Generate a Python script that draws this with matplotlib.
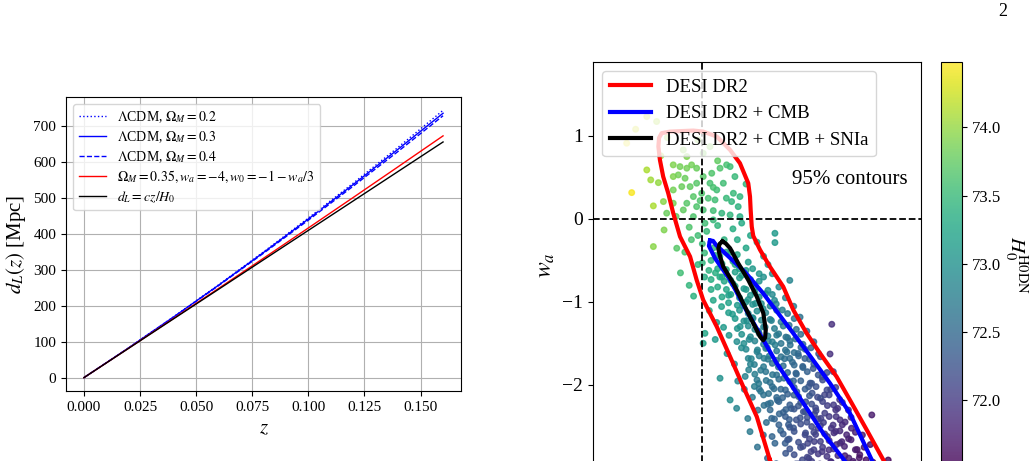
import numpy as np
import matplotlib
matplotlib.use("Agg")
from matplotlib import pyplot as plt

plt.rcParams["font.family"] = "serif"
plt.rcParams["font.serif"] = ["Liberation Serif", "DejaVu Serif"]
plt.rcParams["mathtext.fontset"] = "stix"

# ---- left panel: luminosity distance curves
z_vals = [0.0, 0.02, 0.04, 0.06, 0.08, 0.10, 0.12, 0.14, 0.16]
dl_lcdm_02 = [0, 83.4, 169.5, 258.4, 350.0, 444.3, 541.4, 641.3, 744]
dl_lcdm_03 = [0, 83.3, 169.1, 257.4, 348.3, 441.7, 537.6, 636.0, 736]
dl_lcdm_04 = [0, 83.1, 168.6, 256.3, 346.3, 438.5, 533.1, 629.9, 729]
dl_w0wa = [0, 82.3, 165.1, 248.4, 332.3, 416.7, 501.6, 587.1, 673]
dl_hubble = [0, 82, 164, 246, 328, 410, 492, 574, 656]

# ---- right panel: samples (w0, wa, H0), spread part of the cloud
w0_samples = [
    -1.254, -1.346, -1.305, -1.209, -1.087, -0.996, -0.965, -1.071, -1.160, -1.020,
    -1.190, -0.930, -1.254, -1.133, -1.102, -1.071, -1.049, -1.026, -0.919, -0.889,
    -0.873, -1.323, -1.236, -1.201, -1.224, -1.178, -1.133, -1.110, -1.079, -1.133,
    -1.094, -1.056, -1.026, -1.041, -1.003, -1.071, -1.026, -0.996, -0.973, -0.942,
    -0.957, -0.851, -0.866, -0.836, -0.911, -0.873, -0.828, -0.934, -0.904, -0.965,
    -0.996, -1.163, -1.087, -1.041, -0.858, -0.828, -1.133, -0.950, -0.890, -1.010,
    -0.800, -0.950, -1.120, -1.175, -1.224, -1.117, -0.950, -0.988, -0.668, -0.668,
    -1.060, -1.020, -0.980, -0.930, -0.900, -0.860, -0.820, -0.780, -0.950, -1.000,
    -0.870, -0.800, -0.750, -1.080, -0.920, -0.720, -1.050, -0.840, -1.100, -1.060,
    -1.020, -0.990, -0.960, -0.930, -0.900, -0.880, -0.850, -0.820, -0.800, -0.770,
    -0.740, -0.710, -0.680, -0.650, -0.950, -0.860, -0.790, -0.920, -0.830, -0.760,
    -1.040, -0.700, -0.620, -0.600, -0.670, -0.996, -0.988, -0.968, -0.934, -0.912,
    -0.878, -0.862, -0.827, -0.814, -0.786, -0.768, -0.743, -0.722, -0.698, -0.684,
    -0.651, -0.634, -0.603, -0.574, -0.553, -0.522, -0.408, -0.903, -0.842, -0.757,
    -0.713, -0.662, -0.618, -0.797, -0.941, -0.582, -0.887, -0.853, -0.821, -0.804,
    -0.776, -0.748, -0.733, -0.708, -0.694, -0.667, -0.652, -0.627, -0.613, -0.588,
    -0.572, -0.549, -0.531, -0.507, -0.493, -0.468, -0.452, -0.416, -0.401, -0.919,
    -0.838, -0.762, -0.703, -0.624, -0.583, -0.541, -0.679, -0.742, -0.503, -0.598,
    -0.661, -0.718, -0.788, -0.562, -0.873, -0.843, -0.808, -0.792, -0.771, -0.746,
    -0.733, -0.707, -0.688, -0.672, -0.648, -0.633, -0.606, -0.593, -0.568, -0.552,
    -0.527, -0.514, -0.487, -0.473, -0.446, -0.428, -0.413, -0.388, -0.372, -0.347,
    -0.225, -0.762, -0.683, -0.618, -0.581, -0.522, -0.482, -0.441, -0.402, -0.718,
    -0.657, -0.602, -0.561, -0.498, -0.458, -0.538, -0.641, -0.697, -0.381, -0.332,
    -0.782, -0.748, -0.721, -0.702, -0.668, -0.642, -0.619, -0.603, -0.572, -0.551,
    -0.528, -0.513, -0.488, -0.471, -0.452, -0.428, -0.413, -0.387, -0.371, -0.348,
    -0.331, -0.307, -0.292, -0.268, -0.251, -0.232, -0.150, -0.662, -0.583, -0.518,
    -0.463, -0.421, -0.362, -0.318, -0.282, -0.542, -0.482, -0.441, -0.398, -0.338,
    -0.621, -0.681, -0.503,
]
wa_samples = [
    1.233, 0.912, 1.080, 1.173, 0.831, 0.791, 0.871, 0.751, 0.980, 0.950,
    0.760, 0.700, 0.590, 0.651, 0.630, 0.611, 0.651, 0.611, 0.611, 0.651,
    0.630, 0.317, 0.470, 0.437, 0.157, 0.209, 0.510, 0.530, 0.490, 0.349,
    0.389, 0.389, 0.430, 0.269, 0.309, 0.189, 0.148, 0.108, 0.249, 0.229,
    0.550, 0.510, 0.209, 0.148, 0.069, 0.048, 0.028, 0.349, 0.430, 0.430,
    0.510, 0.069, 0.108, 0.028, 0.309, 0.269, 0.189, 0.380, 0.250, 0.220,
    0.420, 0.100, 0.030, -0.133, -0.333, -0.353, -0.012, -0.052, -0.173, -0.285,
    -0.100, -0.200, -0.150, -0.080, -0.250, -0.120, -0.050, -0.200, -0.350, -0.300,
    -0.400, -0.350, -0.280, -0.400, -0.450, -0.450, -0.250, -0.250, -0.650, -0.800,
    -0.550, -0.700, -0.850, -0.600, -0.750, -0.920, -0.550, -0.680, -0.850, -0.600,
    -0.750, -0.900, -0.660, -0.820, -0.980, -0.780, -0.970, -0.700, -0.600, -0.880,
    -0.930, -0.550, -0.950, -0.740, -0.980, -1.498, -1.378, -1.104, -1.247, -1.056,
    -1.402, -1.147, -1.296, -1.043, -1.452, -1.196, -1.352, -1.081, -1.473, -1.224,
    -1.384, -1.097, -1.281, -1.446, -1.183, -1.352, -1.269, -1.306, -1.478, -1.018,
    -1.302, -1.024, -1.423, -1.226, -1.452, -1.052, -1.622, -1.748, -1.553, -1.897,
    -1.684, -1.578, -1.823, -1.946, -1.652, -1.518, -1.784, -1.918, -1.603, -1.726,
    -1.857, -1.547, -1.681, -1.978, -1.802, -1.624, -1.903, -1.627, -1.840, -1.919,
    -1.953, -1.754, -1.551, -1.684, -1.951, -1.776, -1.876, -1.982, -1.552, -1.518,
    -1.703, -1.679, -1.818, -1.621, -2.181, -2.281, -2.052, -2.404, -2.148, -2.303,
    -2.077, -2.452, -2.218, -2.046, -2.348, -2.153, -2.478, -2.284, -2.082, -2.396,
    -2.203, -2.021, -2.352, -2.147, -2.452, -2.248, -2.053, -2.381, -2.176, -2.447,
    -2.361, -2.018, -2.402, -2.296, -2.122, -2.448, -2.277, -2.119, -2.483, -2.246,
    -2.184, -2.417, -2.253, -2.098, -2.402, -2.322, -2.051, -2.104, -2.282, -2.302,
    -2.562, -2.748, -2.603, -2.882, -2.702, -2.548, -2.823, -2.652, -2.951, -2.752,
    -2.578, -2.883, -2.681, -2.522, -2.803, -2.621, -2.923, -2.718, -2.553, -2.852,
    -2.648, -2.947, -2.778, -2.603, -2.902, -2.718, -2.904, -2.948, -2.517, -2.703,
    -2.952, -2.782, -2.683, -2.521, -2.878, -2.902, -2.597, -2.981, -2.577, -2.953,
    -2.702, -2.621, -2.802,
]
h0_samples = [
    74.20, 74.40, 74.30, 74.10, 73.95, 73.85, 73.90, 73.90, 74.05, 73.95,
    74.05, 73.75, 74.10, 73.90, 73.85, 73.85, 73.85, 73.80, 73.65, 73.60,
    73.55, 74.45, 74.05, 74.00, 74.10, 73.95, 73.90, 73.85, 73.80, 73.85,
    73.80, 73.75, 73.70, 73.70, 73.65, 73.70, 73.65, 73.60, 73.60, 73.55,
    73.65, 73.50, 73.45, 73.40, 73.45, 73.45, 73.35, 73.55, 73.55, 73.60,
    73.70, 73.80, 73.75, 73.65, 73.50, 73.45, 73.85, 73.60, 73.50, 73.65,
    73.45, 73.55, 73.75, 73.90, 73.95, 73.70, 73.50, 73.55, 73.10, 73.10,
    73.65, 73.55, 73.50, 73.45, 73.40, 73.35, 73.30, 73.25, 73.45, 73.50,
    73.35, 73.25, 73.20, 73.60, 73.40, 73.15, 73.60, 73.30, 73.55, 73.45,
    73.45, 73.35, 73.30, 73.30, 73.25, 73.15, 73.20, 73.15, 73.10, 73.10,
    73.00, 72.95, 72.95, 72.90, 73.25, 73.20, 73.05, 73.30, 73.20, 73.05,
    73.40, 73.00, 72.80, 72.85, 72.90, 73.20, 73.25, 73.30, 73.15, 73.20,
    73.05, 73.10, 73.00, 73.05, 72.90, 72.95, 72.85, 72.90, 72.80, 72.80,
    72.70, 72.75, 72.65, 72.55, 72.60, 72.50, 71.90, 73.10, 72.95, 73.00,
    72.80, 72.80, 72.60, 72.95, 73.10, 72.70, 73.00, 72.90, 72.95, 72.80,
    72.85, 72.85, 72.70, 72.65, 72.75, 72.75, 72.60, 72.55, 72.60, 72.50,
    72.45, 72.50, 72.40, 72.30, 72.30, 72.30, 72.20, 71.90, 72.10, 73.00,
    72.85, 72.75, 72.80, 72.55, 72.45, 72.40, 72.65, 72.70, 72.45, 72.60,
    72.65, 72.75, 72.80, 72.50, 72.95, 72.85, 72.80, 72.70, 72.70, 72.65,
    72.65, 72.55, 72.55, 72.55, 72.45, 72.45, 72.35, 72.35, 72.40, 72.25,
    72.25, 72.30, 72.15, 72.15, 72.05, 72.05, 72.10, 71.95, 71.95, 71.85,
    71.70, 72.75, 72.50, 72.40, 72.40, 72.20, 72.15, 72.10, 71.95, 72.60,
    72.50, 72.35, 72.30, 72.25, 72.05, 72.25, 72.50, 72.60, 71.95, 71.85,
    72.70, 72.60, 72.55, 72.45, 72.45, 72.45, 72.30, 72.30, 72.20, 72.20,
    72.20, 72.05, 72.05, 72.05, 71.95, 71.95, 71.85, 71.85, 71.85, 71.75,
    71.75, 71.65, 71.65, 71.70, 71.60, 71.60, 71.55, 72.35, 72.30, 72.10,
    71.95, 71.90, 71.80, 71.80, 71.65, 72.15, 72.05, 71.90, 71.90, 71.70,
    72.35, 72.45, 72.05,
]

# dense core of the cloud, one line per wa strip
w0_core = [
    -0.99, -0.94, -0.89, -0.84,
    -1.00, -0.96, -0.91, -0.86, -0.79,
    -0.97, -0.94, -0.89, -0.85, -0.80, -0.74,
    -0.96, -0.91, -0.87, -0.83, -0.78, -0.72,
    -0.93, -0.89, -0.85, -0.81, -0.76, -0.70,
    -0.91, -0.87, -0.83, -0.78, -0.74, -0.68,
    -0.88, -0.84, -0.80, -0.77, -0.73, -0.69,
    -0.88, -0.83, -0.79, -0.75, -0.71, -0.66, -0.61,
    -0.85, -0.81, -0.77, -0.73, -0.69, -0.64, -0.58,
    -0.84, -0.79, -0.76, -0.72, -0.67, -0.63, -0.57,
    -0.82, -0.78, -0.74, -0.70, -0.66, -0.61, -0.55,
    -0.81, -0.76, -0.72, -0.68, -0.64, -0.60, -0.54, -0.49,
    -0.80, -0.75, -0.71, -0.66, -0.62, -0.58, -0.53,
    -0.79, -0.74, -0.70, -0.64, -0.60, -0.56, -0.51, -0.46,
    -0.78, -0.72, -0.68, -0.63, -0.58, -0.54, -0.49,
    -0.76, -0.71, -0.66, -0.61, -0.57, -0.52, -0.47, -0.43,
    -0.75, -0.69, -0.65, -0.60, -0.55, -0.50, -0.45,
    -0.74, -0.68, -0.62, -0.58, -0.53, -0.48, -0.43, -0.39,
    -0.72, -0.66, -0.61, -0.56, -0.51, -0.46, -0.42,
    -0.70, -0.65, -0.60, -0.55, -0.50, -0.45, -0.40, -0.36,
    -0.69, -0.63, -0.58, -0.53, -0.48, -0.44, -0.39,
    -0.67, -0.62, -0.57, -0.52, -0.47, -0.42, -0.37, -0.32,
    -0.65, -0.60, -0.55, -0.50, -0.46, -0.41, -0.36,
    -0.63, -0.58, -0.53, -0.49, -0.44, -0.39, -0.34, -0.30,
    -0.61, -0.56, -0.51, -0.46, -0.42, -0.37, -0.32,
    -0.60, -0.54, -0.49, -0.45, -0.40, -0.35, -0.30, -0.26,
    -0.58, -0.52, -0.47, -0.43, -0.38, -0.33, -0.28,
    -0.56, -0.50, -0.45, -0.41, -0.36, -0.31, -0.26, -0.22,
]
wa_core = [
    -0.41, -0.44, -0.40, -0.43,
    -0.53, -0.50, -0.54, -0.51, -0.52,
    -0.62, -0.65, -0.61, -0.64, -0.62, -0.66,
    -0.73, -0.70, -0.74, -0.71, -0.73, -0.70,
    -0.82, -0.85, -0.81, -0.84, -0.83, -0.86,
    -0.94, -0.91, -0.95, -0.92, -0.94, -0.91,
    -1.01, -1.04, -1.00, -1.03, -1.02, -1.05,
    -1.13, -1.10, -1.14, -1.11, -1.13, -1.10, -1.14,
    -1.20, -1.23, -1.19, -1.22, -1.21, -1.24, -1.20,
    -1.32, -1.29, -1.33, -1.30, -1.32, -1.29, -1.33,
    -1.39, -1.42, -1.38, -1.41, -1.40, -1.43, -1.39,
    -1.50, -1.47, -1.51, -1.48, -1.50, -1.47, -1.51, -1.48,
    -1.57, -1.60, -1.56, -1.59, -1.58, -1.61, -1.57,
    -1.68, -1.65, -1.69, -1.66, -1.68, -1.65, -1.69, -1.66,
    -1.75, -1.78, -1.74, -1.77, -1.76, -1.79, -1.75,
    -1.87, -1.84, -1.88, -1.85, -1.87, -1.84, -1.88, -1.85,
    -1.94, -1.97, -1.93, -1.96, -1.95, -1.98, -1.94,
    -2.05, -2.02, -2.06, -2.03, -2.05, -2.02, -2.06, -2.03,
    -2.12, -2.15, -2.11, -2.14, -2.13, -2.16, -2.12,
    -2.23, -2.20, -2.24, -2.21, -2.23, -2.20, -2.24, -2.21,
    -2.30, -2.33, -2.29, -2.32, -2.31, -2.34, -2.30,
    -2.41, -2.38, -2.42, -2.39, -2.41, -2.38, -2.42, -2.39,
    -2.48, -2.51, -2.47, -2.50, -2.49, -2.52, -2.48,
    -2.59, -2.56, -2.60, -2.57, -2.59, -2.56, -2.60, -2.57,
    -2.66, -2.69, -2.65, -2.68, -2.67, -2.70, -2.66,
    -2.77, -2.74, -2.78, -2.75, -2.77, -2.74, -2.78, -2.75,
    -2.84, -2.87, -2.83, -2.86, -2.85, -2.88, -2.84,
    -2.95, -2.92, -2.96, -2.93, -2.95, -2.92, -2.96, -2.93,
]
h0_core = [
    73.50, 73.40, 73.35, 73.25,
    73.45, 73.40, 73.35, 73.25, 73.15,
    73.40, 73.35, 73.30, 73.20, 73.15, 73.05,
    73.35, 73.30, 73.25, 73.15, 73.10, 73.00,
    73.30, 73.25, 73.20, 73.10, 73.05, 72.95,
    73.25, 73.20, 73.10, 73.05, 72.95, 72.90,
    73.20, 73.10, 73.05, 73.00, 72.95, 72.85,
    73.15, 73.05, 73.00, 72.95, 72.85, 72.80, 72.70,
    73.10, 73.00, 72.95, 72.90, 72.80, 72.75, 72.65,
    73.05, 72.95, 72.90, 72.85, 72.75, 72.70, 72.60,
    73.00, 72.90, 72.85, 72.80, 72.70, 72.65, 72.55,
    72.95, 72.85, 72.80, 72.75, 72.65, 72.60, 72.50, 72.40,
    72.90, 72.80, 72.75, 72.70, 72.60, 72.55, 72.45,
    72.85, 72.75, 72.70, 72.60, 72.55, 72.50, 72.40, 72.30,
    72.80, 72.70, 72.65, 72.55, 72.50, 72.45, 72.35,
    72.75, 72.65, 72.60, 72.50, 72.45, 72.40, 72.30, 72.20,
    72.70, 72.60, 72.55, 72.45, 72.40, 72.30, 72.20,
    72.65, 72.55, 72.45, 72.40, 72.35, 72.25, 72.15, 72.05,
    72.60, 72.50, 72.40, 72.35, 72.30, 72.20, 72.10,
    72.55, 72.45, 72.35, 72.30, 72.20, 72.10, 72.00, 71.95,
    72.50, 72.40, 72.30, 72.25, 72.15, 72.05, 71.95,
    72.45, 72.35, 72.25, 72.20, 72.10, 72.00, 71.90, 71.85,
    72.40, 72.30, 72.20, 72.15, 72.05, 71.95, 71.85,
    72.35, 72.25, 72.15, 72.10, 72.00, 71.90, 71.80, 71.75,
    72.30, 72.20, 72.10, 72.05, 71.95, 71.85, 71.75,
    72.25, 72.15, 72.05, 72.00, 71.90, 71.80, 71.70, 71.65,
    72.20, 72.10, 72.00, 71.95, 71.85, 71.75, 71.65,
    72.15, 72.05, 71.95, 71.90, 71.80, 71.70, 71.60, 71.55,
]

# 95% contours, traced by eye
red_w0 = [-0.691, -0.751, -0.813, -0.873, -0.934, -0.996, -1.026, -1.056, -1.102, -1.133,
          -1.156, -1.179, -1.194, -1.201, -1.198, -1.186, -1.148, -1.041, -0.996, -0.934,
          -0.873, -0.828, -0.790, -0.782, -0.779, -0.774, -0.767, -0.736, -0.691, -0.630,
          -0.584, -0.523, -0.462, -0.386, -0.325, -0.248, -0.172, -0.089, -0.20, -0.50,
          -0.645, -0.691]
red_wa = [-2.904, -2.382, -2.020, -1.659, -1.298, -0.976, -0.735, -0.454, -0.213, 0.069,
          0.310, 0.510, 0.711, 0.871, 0.976, 1.033, 1.052, 1.064, 1.052, 0.992,
          0.831, 0.671, 0.430, 0.269, 0.108, -0.093, -0.205, -0.373, -0.575, -0.816,
          -1.096, -1.377, -1.618, -1.900, -2.181, -2.542, -2.904, -3.3, -3.6, -3.6,
          -3.3, -2.904]
blue_w0 = [-0.965, -0.970, -0.942, -0.873, -0.800, -0.721, -0.660, -0.568, -0.447, -0.348,
           -0.234, -0.19, -0.155, -0.225, -0.325, -0.416, -0.538, -0.630, -0.723, -0.805,
           -0.883, -0.9375, -0.951, -0.965]
blue_wa = [-0.261, -0.325, -0.473, -0.735, -1.096, -1.458, -1.739, -2.100, -2.582, -2.916,
           -3.3, -3.45, -3.3, -2.904, -2.341, -1.980, -1.539, -1.217, -0.892, -0.639,
           -0.446, -0.313, -0.265, -0.261]
black_w0 = [-0.908, -0.921, -0.927, -0.918, -0.904, -0.858, -0.813, -0.767, -0.736, -0.722,
            -0.713, -0.710, -0.721, -0.751, -0.790, -0.836, -0.873, -0.893, -0.908]
black_wa = [-0.272, -0.300, -0.360, -0.460, -0.575, -0.775, -1.016, -1.257, -1.418, -1.462,
            -1.430, -1.337, -1.136, -0.936, -0.735, -0.534, -0.353, -0.295, -0.272]

cb_ticks = [72.0, 72.5, 73.0, 73.5, 74.0]

fig = plt.figure(figsize=(10.35, 4.61), dpi=100)
W, H = 1035.0, 461.0
ax1 = fig.add_axes([66 / W, 70 / H, 395 / W, 294 / H])
ax2 = fig.add_axes([593 / W, -7 / H, 328 / W, 406 / H])
cax = fig.add_axes([941 / W, -7 / H, 21 / W, 406 / H])

# left panel
ax1.plot(z_vals, dl_lcdm_02, color="blue", ls=":", lw=1, label=r"$\Lambda$CDM, $\Omega_M = 0.2$")
ax1.plot(z_vals, dl_lcdm_03, color="blue", ls="-", lw=1, label=r"$\Lambda$CDM, $\Omega_M = 0.3$")
ax1.plot(z_vals, dl_lcdm_04, color="blue", ls="--", lw=1, label=r"$\Lambda$CDM, $\Omega_M = 0.4$")
ax1.plot(z_vals, dl_w0wa, color="red", lw=1, label=r"$\Omega_M = 0.35, w_a = -4, w_0 = -1 - w_a/3$")
ax1.plot(z_vals, dl_hubble, color="black", lw=1, label=r"$d_L = cz/H_0$")
ax1.grid(True)
ax1.set_xticks([0.0, 0.025, 0.05, 0.075, 0.1, 0.125, 0.15])
ax1.set_xticklabels(["0.000", "0.025", "0.050", "0.075", "0.100", "0.125", "0.150"])
ax1.set_yticks(np.arange(0, 701, 100))
ax1.tick_params(labelsize=11)
ax1.set_xlabel(r"$z$", fontsize=15)
ax1.set_ylabel(r"$d_L(z)$ [Mpc]", fontsize=15)
ax1.legend(loc="upper left", fontsize=10, labelspacing=0.3)

# right panel
all_w0 = w0_samples + w0_core
all_wa = wa_samples + wa_core
all_h0 = h0_samples + h0_core
sc = ax2.scatter(all_w0, all_wa, c=all_h0, cmap="viridis", s=16,
                 alpha=0.8, vmin=71.5, vmax=74.48, zorder=1)
ax2.axvline(-1, color="k", ls="--", lw=1.3, zorder=2)
ax2.axhline(0, color="k", ls="--", lw=1.3, zorder=2)
ax2.plot(red_w0, red_wa, color="red", lw=3, label="DESI DR2", zorder=3)
ax2.plot(blue_w0, blue_wa, color="blue", lw=3, label="DESI DR2 + CMB", zorder=3)
ax2.plot(black_w0, black_wa, color="black", lw=3, label="DESI DR2 + CMB + SNIa", zorder=3)
ax2.set_xlim(-1.5, 0.0)
ax2.set_ylim(-3.0, 1.89)
ax2.set_yticks([-2, -1, 0, 1])
ax2.tick_params(labelsize=14, labelbottom=False)
ax2.set_ylabel(r"$w_a$", fontsize=17)
ax2.text(0.96, 0.71, "95% contours", transform=ax2.transAxes, ha="right", va="center", fontsize=15)
ax2.legend(loc="upper left", fontsize=13.5, handlelength=2.2)

cb = fig.colorbar(sc, cax=cax)
cb.set_ticks(cb_ticks)
cb.ax.tick_params(labelsize=12)
cb.set_label(r"$H_0^{\rm H0DN}$", rotation=270, fontsize=15, labelpad=21)

fig.text(1003 / W, 1 - 12 / H, "2", ha="center", va="center", fontsize=13)

fig.savefig("out.png", dpi=100)
